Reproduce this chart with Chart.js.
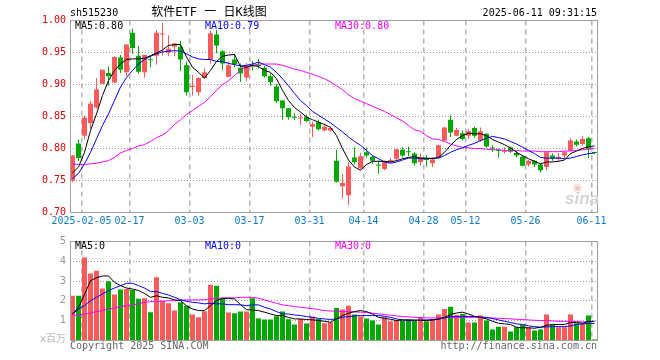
<!DOCTYPE html>
<html>
<head>
<meta charset="utf-8">
<script src="https://cdn.jsdelivr.net/npm/chart.js@4.4.1/dist/chart.umd.min.js"></script>
<style>
body { margin: 0; background: #fff; }
#wrap { position: relative; width: 660px; height: 360px; overflow: hidden; font-family: "DejaVu Sans Mono", monospace; font-size: 10px; }
canvas { position: absolute; left: 0; }
.t { position: absolute; line-height: 12px; white-space: nowrap; }
</style>
</head>
<body>
<div id="wrap">
<canvas id="kline" width="660" height="232" style="top:0"></canvas>
<canvas id="vol" width="660" height="128" style="top:232px"></canvas>

<div class="t" style="left:70px;top:7px;color:#000">sh515230</div>
<div class="t" style="left:109px;top:5px;width:200px;text-align:center;font-family:'DejaVu Sans Mono','Noto Sans CJK SC';font-size:12px;line-height:14px;color:#000">软件ETF 一 日K线图</div>
<div class="t" style="right:63px;top:7px;color:#000">2025-06-11 09:31:15</div>

<div class="t" id="lg5" style="left:75px;top:20px;color:#000"></div>
<div class="t" id="lg10" style="left:205px;top:20px;color:#0000ff"></div>
<div class="t" id="lg30" style="left:335px;top:20px;color:#ff00ff"></div>
<div class="t" style="left:573px;top:182px;font-family:'DejaVu Sans';font-size:11px;line-height:12px;color:#f4c4c4">◉</div>
<div class="t" style="left:565px;top:189px;font-family:'Liberation Sans';font-style:italic;font-weight:bold;font-size:17px;line-height:20px;color:#d4d4d4">sina</div>

<div class="t" style="left:75px;top:240px;color:#000">MA5:0</div>
<div class="t" style="left:205px;top:240px;color:#0000ff">MA10:0</div>
<div class="t" style="left:335px;top:240px;color:#ff00ff">MA30:0</div>
<div class="t" style="right:594px;top:333px;font-family:'DejaVu Sans','Noto Sans CJK SC';font-size:10px;color:#bbb">x百万</div>
<div class="t" style="left:70px;top:340px;color:#666">Copyright 2025 SINA.COM</div>
<div class="t" style="right:63px;top:340px;color:#666">http://finance.sina.com.cn</div>
</div>

<script>
var dates = [
    '2025-01-24', '2025-01-27',
    '2025-02-05', '2025-02-06', '2025-02-07',
    '2025-02-10', '2025-02-11', '2025-02-12', '2025-02-13', '2025-02-14',
    '2025-02-17', '2025-02-18', '2025-02-19', '2025-02-20', '2025-02-21',
    '2025-02-24', '2025-02-25', '2025-02-26', '2025-02-27', '2025-02-28',
    '2025-03-03', '2025-03-04', '2025-03-05', '2025-03-06', '2025-03-07',
    '2025-03-10', '2025-03-11', '2025-03-12', '2025-03-13', '2025-03-14',
    '2025-03-17', '2025-03-18', '2025-03-19', '2025-03-20', '2025-03-21',
    '2025-03-24', '2025-03-25', '2025-03-26', '2025-03-27', '2025-03-28',
    '2025-03-31', '2025-04-01', '2025-04-02', '2025-04-03',
    '2025-04-07', '2025-04-08', '2025-04-09', '2025-04-10', '2025-04-11',
    '2025-04-14', '2025-04-15', '2025-04-16', '2025-04-17', '2025-04-18',
    '2025-04-21', '2025-04-22', '2025-04-23', '2025-04-24', '2025-04-25',
    '2025-04-28', '2025-04-29', '2025-04-30',
    '2025-05-06', '2025-05-07', '2025-05-08', '2025-05-09',
    '2025-05-12', '2025-05-13', '2025-05-14', '2025-05-15', '2025-05-16',
    '2025-05-19', '2025-05-20', '2025-05-21', '2025-05-22', '2025-05-23',
    '2025-05-26', '2025-05-27', '2025-05-28', '2025-05-29', '2025-05-30',
    '2025-06-03', '2025-06-04', '2025-06-05', '2025-06-06',
    '2025-06-09', '2025-06-10', '2025-06-11'
];

// dates that get a label and a dashed grid line
var tickDates = ['2025-02-05', '2025-02-17', '2025-03-03', '2025-03-17', '2025-03-31',
    '2025-04-14', '2025-04-28', '2025-05-12', '2025-05-26', '2025-06-11'];
var tickLabels = ['2025-02-05', '02-17', '03-03', '03-17', '03-31',
    '04-14', '04-28', '05-12', '05-26', '06-11'];

var opens = [0.750, 0.808, 0.820, 0.840, 0.864, 0.901, 0.918, 0.903, 0.942, 0.919,
    0.981, 0.945, 0.919, 0.939, 0.945, 0.978, 0.950, 0.959, 0.959, 0.930,
    0.896, 0.888, 0.910, 0.939, 0.978, 0.952, 0.912, 0.939, 0.926, 0.911,
    0.930, 0.931, 0.926, 0.913, 0.897, 0.875, 0.863, 0.849, 0.847, 0.849,
    0.834, 0.841, 0.828, 0.828, 0.781, 0.741, 0.727, 0.786, 0.769, 0.794,
    0.787, 0.774, 0.768, 0.780, 0.784, 0.798, 0.795, 0.792, 0.779, 0.783,
    0.777, 0.786, 0.8125, 0.845, 0.820, 0.824, 0.820, 0.832, 0.8125, 0.823,
    0.801, 0.797, 0.795, 0.802, 0.793, 0.787, 0.775, 0.781, 0.775, 0.771,
    0.789, 0.784, 0.789, 0.797, 0.811, 0.807, 0.816, 0.794];
var highs = [0.790, 0.814, 0.851, 0.874, 0.910, 0.923, 0.928, 0.944, 0.946, 0.9625,
    0.9875, 0.960, 0.946, 0.945, 0.985, 0.996, 0.977, 0.964, 0.968, 0.936,
    0.915, 0.911, 0.925, 0.984, 0.985, 0.954, 0.936, 0.948, 0.933, 0.934,
    0.937, 0.940, 0.929, 0.917, 0.901, 0.875, 0.863, 0.855, 0.854, 0.853,
    0.842, 0.845, 0.839, 0.834, 0.798, 0.760, 0.779, 0.802, 0.793, 0.801,
    0.789, 0.781, 0.781, 0.785, 0.799, 0.802, 0.803, 0.794, 0.792, 0.790,
    0.786, 0.806, 0.834, 0.852, 0.832, 0.828, 0.831, 0.834, 0.833, 0.824,
    0.805, 0.800, 0.802, 0.803, 0.796, 0.789, 0.782, 0.782, 0.776, 0.794,
    0.792, 0.793, 0.797, 0.816, 0.814, 0.820, 0.818, 0.795];
var lows = [0.748, 0.781, 0.814, 0.831, 0.862, 0.901, 0.898, 0.902, 0.918, 0.913,
    0.948, 0.917, 0.911, 0.927, 0.931, 0.945, 0.944, 0.944, 0.921, 0.883,
    0.883, 0.883, 0.909, 0.933, 0.949, 0.923, 0.912, 0.927, 0.904, 0.905,
    0.922, 0.925, 0.911, 0.898, 0.871, 0.845, 0.845, 0.844, 0.837, 0.841,
    0.818, 0.828, 0.827, 0.826, 0.747, 0.722, 0.712, 0.775, 0.767, 0.786,
    0.776, 0.761, 0.766, 0.777, 0.781, 0.786, 0.788, 0.773, 0.773, 0.772,
    0.771, 0.785, 0.811, 0.818, 0.819, 0.8125, 0.815, 0.817, 0.810, 0.801,
    0.795, 0.786, 0.792, 0.793, 0.786, 0.772, 0.772, 0.771, 0.763, 0.766,
    0.781, 0.780, 0.785, 0.796, 0.803, 0.804, 0.785, 0.791];
var closes = [0.789, 0.785, 0.848, 0.870, 0.892, 0.923, 0.913, 0.943, 0.923, 0.9625,
    0.957, 0.920, 0.946, 0.938, 0.981, 0.979, 0.956, 0.964, 0.939, 0.888,
    0.898, 0.910, 0.919, 0.980, 0.961, 0.933, 0.930, 0.932, 0.917, 0.930,
    0.928, 0.929, 0.913, 0.904, 0.874, 0.863, 0.849, 0.848, 0.848, 0.843,
    0.838, 0.830, 0.834, 0.832, 0.748, 0.746, 0.772, 0.779, 0.788, 0.789,
    0.781, 0.773, 0.780, 0.782, 0.799, 0.789, 0.794, 0.777, 0.786, 0.782,
    0.783, 0.805, 0.833, 0.825, 0.829, 0.815, 0.827, 0.820, 0.827, 0.803,
    0.800, 0.796, 0.796, 0.795, 0.789, 0.773, 0.781, 0.775, 0.766, 0.794,
    0.784, 0.787, 0.794, 0.8125, 0.806, 0.815, 0.799, 0.793];

// moving averages as drawn on the price panel
var ma5 = [0.762, 0.771, 0.794, 0.828, 0.854, 0.883, 0.906, 0.922, 0.932, 0.939,
    0.940, 0.940, 0.941, 0.945, 0.949, 0.954, 0.961, 0.9625, 0.9625, 0.943,
    0.927, 0.919, 0.910, 0.922, 0.936, 0.944, 0.946, 0.947, 0.928, 0.927,
    0.930, 0.928, 0.922, 0.919, 0.909, 0.891, 0.875, 0.864, 0.857, 0.849,
    0.845, 0.841, 0.8375, 0.833, 0.820, 0.800, 0.782, 0.771, 0.766, 0.775,
    0.780, 0.780, 0.780, 0.779, 0.781, 0.784, 0.786, 0.7875, 0.785, 0.785,
    0.784, 0.786, 0.794, 0.805, 0.814, 0.820, 0.824, 0.823, 0.823, 0.820,
    0.814, 0.810, 0.806, 0.801, 0.794, 0.789, 0.784, 0.780, 0.776, 0.779,
    0.779, 0.780, 0.782, 0.792, 0.796, 0.800, 0.803, 0.804];
var ma10 = [0.753, 0.761, 0.776, 0.794, 0.815, 0.836, 0.854, 0.875, 0.896, 0.911,
    0.922, 0.932, 0.939, 0.944, 0.948, 0.951, 0.952, 0.953, 0.952, 0.948,
    0.943, 0.940, 0.939, 0.939, 0.936, 0.936, 0.933, 0.931, 0.929, 0.930,
    0.932, 0.935, 0.931, 0.927, 0.919, 0.909, 0.898, 0.886, 0.875, 0.867,
    0.858, 0.852, 0.846, 0.840, 0.833, 0.826, 0.818, 0.811, 0.805, 0.797,
    0.789, 0.784, 0.779, 0.777, 0.779, 0.782, 0.785, 0.785, 0.784, 0.784,
    0.785, 0.785, 0.789, 0.794, 0.798, 0.801, 0.805, 0.808, 0.8125, 0.816,
    0.819, 0.817, 0.815, 0.811, 0.807, 0.802, 0.797, 0.792, 0.786, 0.785,
    0.785, 0.785, 0.784, 0.785, 0.7875, 0.790, 0.792, 0.793];
var ma30 = [0.776, 0.775, 0.775, 0.776, 0.777, 0.779, 0.781, 0.786, 0.793, 0.797,
    0.800, 0.804, 0.806, 0.811, 0.817, 0.821, 0.828, 0.8375, 0.845, 0.853,
    0.859, 0.866, 0.872, 0.881, 0.891, 0.900, 0.906, 0.914, 0.922, 0.927,
    0.930, 0.932, 0.932, 0.932, 0.932, 0.930, 0.927, 0.924, 0.922, 0.919,
    0.916, 0.9125, 0.909, 0.904, 0.898, 0.892, 0.884, 0.878, 0.874, 0.870,
    0.866, 0.862, 0.858, 0.853, 0.848, 0.843, 0.836, 0.829, 0.827, 0.820,
    0.815, 0.814, 0.811, 0.807, 0.804, 0.802, 0.801, 0.800, 0.800, 0.799,
    0.798, 0.798, 0.797, 0.797, 0.797, 0.796, 0.796, 0.796, 0.795, 0.795,
    0.795, 0.795, 0.796, 0.796, 0.797, 0.798, 0.799, 0.800];

// volume in millions
var volumes = [2.26, 2.26, 4.19, 3.39, 3.52, 2.63, 2.99, 2.32, 2.57, 2.60,
    2.55, 2.11, 2.13, 1.43, 3.19, 2.01, 1.88, 1.51, 1.93, 1.76,
    1.31, 1.17, 1.48, 2.82, 2.77, 2.15, 1.41, 1.38, 1.46, 1.46,
    2.13, 1.11, 1.06, 1.06, 1.22, 1.46, 1.07, 0.81, 1.09, 0.86,
    1.21, 1.09, 0.87, 0.92, 1.64, 1.56, 1.76, 1.31, 1.21, 1.11,
    1.01, 0.81, 1.17, 0.97, 1.04, 1.01, 1.06, 1.01, 1.19, 0.97,
    1.07, 1.31, 1.59, 1.71, 1.29, 1.34, 0.91, 0.91, 1.26, 1.01,
    0.55, 0.70, 0.70, 0.45, 0.67, 0.81, 0.67, 0.50, 0.55, 1.31,
    0.81, 0.67, 0.67, 1.31, 0.87, 0.84, 1.26, 0.05];
var vma5 = [1.34, 1.68, 2.32, 3.02, 3.17, 3.26, 3.26, 2.94, 2.77, 2.65,
    2.60, 2.52, 2.38, 2.18, 2.26, 2.18, 2.15, 2.05, 2.01, 1.76,
    1.59, 1.51, 1.51, 1.76, 2.01, 2.13, 2.13, 2.10, 1.81, 1.56,
    1.54, 1.51, 1.43, 1.34, 1.26, 1.26, 1.17, 1.09, 1.09, 1.06,
    1.04, 1.01, 0.97, 0.92, 1.09, 1.26, 1.38, 1.46, 1.51, 1.46,
    1.34, 1.17, 1.12, 1.07, 1.01, 1.04, 1.04, 1.04, 1.01, 1.01,
    1.04, 1.09, 1.17, 1.31, 1.39, 1.43, 1.34, 1.22, 1.17, 1.09,
    0.97, 0.87, 0.84, 0.81, 0.67, 0.64, 0.64, 0.62, 0.67, 0.77,
    0.81, 0.81, 0.81, 0.91, 0.91, 0.87, 0.97, 0.97];
var vma10 = [1.34, 1.59, 1.76, 2.01, 2.18, 2.35, 2.52, 2.65, 2.77, 2.89,
    2.89, 2.77, 2.65, 2.48, 2.47, 2.38, 2.30, 2.18, 2.06, 1.98,
    1.93, 1.90, 1.85, 1.88, 1.85, 1.85, 1.81, 1.81, 1.80, 1.76,
    1.80, 1.80, 1.68, 1.59, 1.46, 1.34, 1.34, 1.29, 1.26, 1.21,
    1.17, 1.12, 1.09, 1.06, 1.09, 1.17, 1.21, 1.24, 1.26, 1.26,
    1.26, 1.26, 1.22, 1.17, 1.09, 1.04, 1.01, 1.01, 1.04, 1.04,
    1.04, 1.07, 1.14, 1.21, 1.21, 1.21, 1.21, 1.21, 1.19, 1.17,
    1.11, 1.04, 0.97, 0.91, 0.84, 0.81, 0.74, 0.70, 0.67, 0.69,
    0.70, 0.70, 0.70, 0.74, 0.81, 0.84, 0.87, 0.86];
var vma30 = [1.26, 1.29, 1.34, 1.39, 1.46, 1.51, 1.59, 1.64, 1.71, 1.76,
    1.81, 1.85, 1.93, 1.96, 1.98, 1.98, 2.01, 2.01, 2.05, 2.05,
    2.05, 2.05, 2.06, 2.10, 2.13, 2.15, 2.15, 2.15, 2.18, 2.18,
    2.18, 2.13, 2.05, 1.96, 1.88, 1.80, 1.76, 1.71, 1.68, 1.64,
    1.61, 1.56, 1.51, 1.49, 1.48, 1.46, 1.46, 1.44, 1.43, 1.41,
    1.38, 1.34, 1.31, 1.28, 1.24, 1.21, 1.19, 1.17, 1.16, 1.14,
    1.14, 1.14, 1.16, 1.16, 1.17, 1.17, 1.17, 1.17, 1.16, 1.14,
    1.14, 1.12, 1.11, 1.09, 1.07, 1.06, 1.04, 1.02, 1.01, 1.01,
    0.99, 0.97, 0.97, 0.97, 0.96, 0.94, 0.94, 0.96];

var UP = '#fa5a5a';
var DOWN = '#00a800';
var monoFont = { family: 'DejaVu Sans Mono', size: 10 };

var candleColors = closes.map(function (c, i) {
    return c >= opens[i] ? UP : DOWN;
});

document.getElementById('lg5').textContent = 'MA5:' + ma5[ma5.length - 1].toFixed(2);
document.getElementById('lg10').textContent = 'MA10:' + ma10[ma10.length - 1].toFixed(2);
document.getElementById('lg30').textContent = 'MA30:' + ma30[ma30.length - 1].toFixed(2);

// frame around the plot area
var framePlugin = {
    id: 'frame',
    afterDatasetsDraw: function (chart) {
        var ctx = chart.ctx;
        var a = chart.chartArea;
        var x0 = Math.round(a.left) + 0.5;
        ctx.save();
        ctx.strokeStyle = '#a0a0a0';
        ctx.lineWidth = 1;
        ctx.strokeRect(x0, a.top, a.right - x0, a.bottom - a.top);
        ctx.restore();
    }
};

function isTickDate(index) {
    return tickDates.indexOf(dates[index]) >= 0;
}

function xScale(showLabels) {
    return {
        type: 'category',
        offset: true,
        grid: {
            offset: true,
            drawTicks: false,
            lineWidth: 1.5,
            color: function (c) {
                return isTickDate(c.index) ? '#b4b4b4' : 'rgba(0,0,0,0)';
            }
        },
        border: { display: false, dash: [5, 4] },
        ticks: {
            display: showLabels,
            autoSkip: false,
            maxRotation: 0,
            minRotation: 0,
            padding: 3,
            labelOffset: -3,
            color: '#0a7bd0',
            font: monoFont,
            callback: function (value, index) {
                var k = tickDates.indexOf(dates[index]);
                return k >= 0 ? tickLabels[k] : '';
            }
        },
        afterFit: function (axis) {
            axis.height = 19.5;
        }
    };
}

function lineSet(data, color) {
    return {
        type: 'line',
        data: data,
        borderColor: color,
        borderWidth: 1,
        pointRadius: 0,
        tension: 0,
        order: 0
    };
}

new Chart(document.getElementById('kline'), {
    type: 'bar',
    data: {
        labels: dates,
        datasets: [
            lineSet(ma5, '#000000'),
            lineSet(ma10, '#0000ff'),
            lineSet(ma30, '#ff00ff'),
            {
                data: opens.map(function (o, i) { return [o, closes[i]]; }),
                backgroundColor: candleColors,
                barThickness: 5,
                minBarLength: 1,
                inflateAmount: 0,
                grouped: false,
                order: 1
            },
            {
                data: lows.map(function (l, i) { return [l, highs[i]]; }),
                backgroundColor: candleColors,
                barThickness: 1,
                inflateAmount: 0,
                grouped: false,
                order: 2
            }
        ]
    },
    options: {
        responsive: false,
        animation: false,
        events: [],
        layout: { padding: { left: 0, right: 62.5, top: 20.5, bottom: 0 } },
        plugins: { legend: { display: false }, tooltip: { enabled: false } },
        scales: {
            x: xScale(true),
            y: {
                type: 'linear',
                min: 0.7,
                max: 1.0,
                grid: { color: '#999999', drawTicks: false },
                border: { display: false, dash: [1, 2] },
                ticks: {
                    stepSize: 0.05,
                    padding: 3.5,
                    color: '#e00000',
                    font: monoFont,
                    callback: function (v) { return v.toFixed(2); }
                },
                afterFit: function (axis) {
                    axis.width = 69.5;
                }
            }
        }
    },
    plugins: [framePlugin]
});

new Chart(document.getElementById('vol'), {
    type: 'bar',
    data: {
        labels: dates,
        datasets: [
            lineSet(vma5, '#000000'),
            lineSet(vma10, '#0000ff'),
            lineSet(vma30, '#ff00ff'),
            {
                data: volumes,
                backgroundColor: candleColors,
                barThickness: 5,
                inflateAmount: 0,
                order: 1
            }
        ]
    },
    options: {
        responsive: false,
        animation: false,
        events: [],
        layout: { padding: { left: 0, right: 62.5, top: 8.5, bottom: 0 } },
        plugins: { legend: { display: false }, tooltip: { enabled: false } },
        scales: {
            x: xScale(false),
            y: {
                type: 'linear',
                min: 0,
                max: 5,
                grid: { color: '#999999', drawTicks: false },
                border: { display: false, dash: [1, 2] },
                ticks: {
                    stepSize: 1,
                    padding: 3.5,
                    color: '#999999',
                    font: { family: 'DejaVu Sans', size: 10 },
                    callback: function (v) { return v === 0 ? '' : v; }
                },
                afterFit: function (axis) {
                    axis.width = 69.5;
                }
            }
        }
    },
    plugins: [framePlugin]
});
</script>
</body>
</html>
